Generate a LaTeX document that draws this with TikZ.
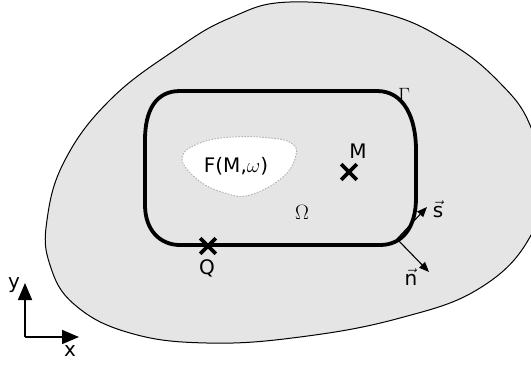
\documentclass[tikz,border=0pt]{standalone}
\usepackage{fontspec}
\setmainfont{DejaVu Sans}
\usepackage{amsmath,amssymb}
\usetikzlibrary{arrows.meta,positioning,shapes.misc}

\begin{document}
\begin{tikzpicture}[x=1pt,y=-1pt,
  blob/.style={draw,line width=1pt,fill=gray!20},
  hole/.style={draw=gray!60,dash pattern=on 1.6pt off 1.4pt,line width=0.9pt,fill=white},
  xmark/.style={cross out,draw,line width=3.6pt,minimum size=12pt,inner sep=0pt},
  lbl/.style={font=\fontsize{20}{24}\selectfont,inner sep=1pt},
  arr/.style={line width=1.1pt,-{Triangle[length=10pt,width=8pt]}},
  axis/.style={line width=1.6pt,-{Triangle[length=17pt,width=14pt]}}]
  \useasboundingbox (0,0) rectangle (531,368);
  \clip (0,0) rectangle (531,368);
  % outer domain
  \draw[blob] plot[smooth cycle,tension=0.7] coordinates {(290,2) (383,13) (450,43) (500,83)
    (530,125) (541,180) (530,237) (480,288) (400,318) (300,337) (207,343) (130,333)
    (75,305) (50,265) (47,220) (65,160) (110,100) (175,50) (230,18)};
  % source region
  \draw[hole] plot[smooth cycle,tension=0.7] coordinates {(182,158) (200,143) (233,137) (270,138)
    (291,143) (296,155) (283,177) (250,195) (225,193) (198,180)};
  % boundary Gamma
  \draw[line width=3.8pt] (180,91) -- (377,91) .. controls (404,91) and (416,118) .. (416,150)
    -- (416,198) .. controls (416,228) and (402,245) .. (380,245) -- (180,245)
    .. controls (160,245) and (145,230) .. (145,205) -- (145,140)
    .. controls (145,110) and (156,91) .. (180,91) -- cycle;
  \node[lbl] (F) at (236,166) {F(M,$\omega$)};
  \node[lbl] (Om) at (302,212) {$\Omega$};
  \node[lbl] (Ga) at (404,95) {$\Gamma$};
  \node[xmark] (M) at (349,172) {};
  \node[lbl] (lM) at (358,151) {M};
  \node[xmark] (Q) at (208,246) {};
  \node[lbl] (lQ) at (207,268) {Q};
  % tangent and normal vectors
  \coordinate (S0) at (397,239);
  \coordinate (S1) at (427,207);
  \coordinate (N1) at (429,272);
  \draw[arr] (S0) -- (S1);
  \draw[arr] (S0) -- (N1);
  \node[lbl] (ls) at (438,209) {$\vec{\mathrm{s}}$};
  \node[lbl] (ln) at (411,277) {$\vec{\mathrm{n}}$};
  % axes
  \coordinate (O) at (25,337);
  \coordinate (Y) at (25,283);
  \coordinate (X) at (79,337);
  \draw[axis] (O) -- (Y);
  \draw[axis] (O) -- (X);
  \node[lbl] (ly) at (14,285) {y};
  \node[lbl] (lx) at (70,351) {x};
\end{tikzpicture}
\end{document}
